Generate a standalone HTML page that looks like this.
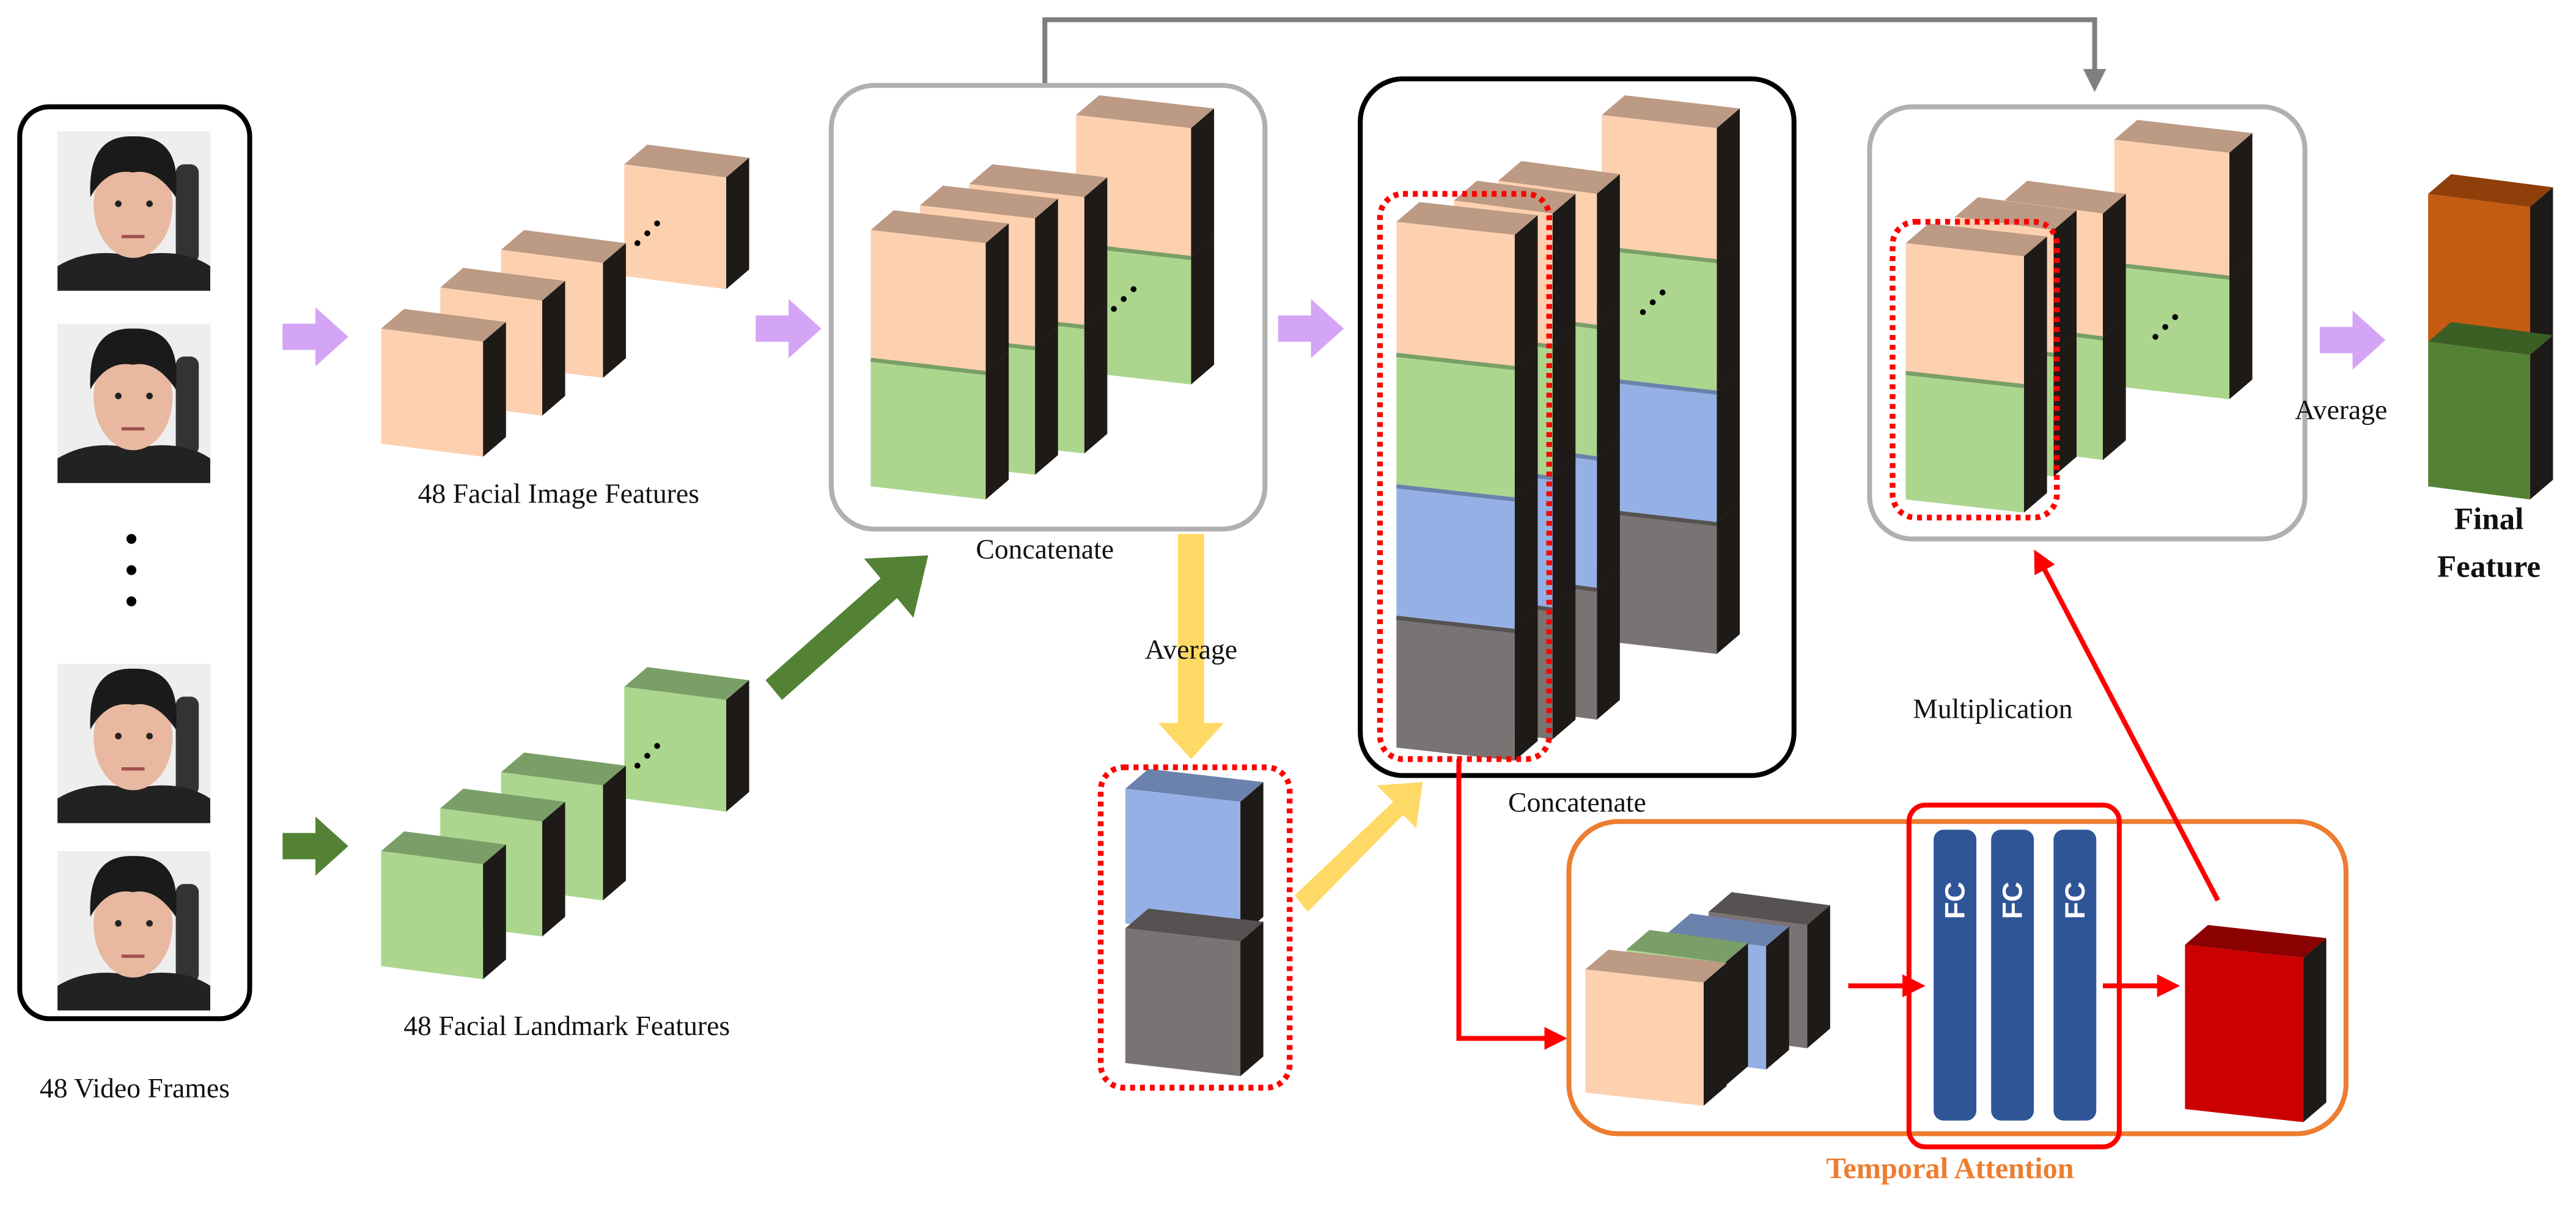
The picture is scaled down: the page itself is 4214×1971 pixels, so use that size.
<!DOCTYPE html>
<html><head><meta charset="utf-8">
<style>
html,body{margin:0;padding:0;background:#fff;}
svg{display:block;}
text{font-family:"Liberation Serif",serif;}
</style></head>
<body>
<svg id="s" width="4214" height="1971" viewBox="0 0 1568 733.4" preserveAspectRatio="none" xmlns="http://www.w3.org/2000/svg">
<defs>
<marker id="ar" markerWidth="14" markerHeight="14" refX="10" refY="7" orient="auto" markerUnits="userSpaceOnUse" viewBox="0 0 14 14"><path d="M0,0 L14,7 L0,14z" fill="#f00"/></marker>
</defs>
<rect x="12" y="65" width="140" height="555" rx="18" fill="none" stroke="#000" stroke-width="3"/>
<path d="M636,52 V12 H1275 V48" fill="none" stroke="#7f7f7f" stroke-width="3"/>
<path d="M1268,42 L1282,42 L1275,56z" fill="#7f7f7f"/>
<rect x="506" y="52" width="264" height="270" rx="26" fill="none" stroke="#b0b0b0" stroke-width="3"/>
<rect x="828" y="48" width="264" height="424" rx="26" fill="none" stroke="#000" stroke-width="3"/>
<rect x="1138" y="65" width="265" height="263" rx="26" fill="none" stroke="#b0b0b0" stroke-width="3"/>
<rect x="955" y="500" width="473" height="190" rx="30" fill="none" stroke="#ed7d31" stroke-width="3"/>
<g id="g"></g>
<g font-size="17" fill="#111" text-anchor="middle">
<text x="82" y="668">48 Video Frames</text>
<text x="340" y="306">48 Facial Image Features</text>
<text x="345" y="630">48 Facial Landmark Features</text>
<text x="636" y="340">Concatenate</text>
<text x="725" y="401">Average</text>
<text x="960" y="494">Concatenate</text>
<text x="1213" y="437">Multiplication</text>
<text x="1425" y="255">Average</text>
<text x="1515" y="322" font-weight="bold" font-size="19">Final</text>
<text x="1515" y="351" font-weight="bold" font-size="19">Feature</text>
<text x="1187" y="717" font-weight="bold" font-size="18" fill="#ed7d31">Temporal Attention</text>
</g>
</svg>
<script>
var G=document.getElementById('g'),h='';
var C={p:['#fdd0b0','#bc9a84'],g:['#acd68e','#7a9e68'],b:['#95b0e4','#6b82ad'],k:['#7a7373','#575252'],o:['#c55a11','#8e3f0a'],G:['#548235','#3b5e25'],r:['#cc0000','#8b0000']};
function cube(x,y,w,hh,c){var s=8,d=14,t=12,f=C[c];
h+='<polygon points="'+x+','+y+' '+(x+d)+','+(y-t)+' '+(x+w+d)+','+(y-t+s)+' '+(x+w)+','+(y+s)+'" fill="'+f[1]+'"/>';
h+='<polygon points="'+(x+w)+','+(y+s)+' '+(x+w+d)+','+(y-t+s)+' '+(x+w+d)+','+(y+hh-t+s)+' '+(x+w)+','+(y+hh+s)+'" fill="#1e1a17"/>';
h+='<polygon points="'+x+','+y+' '+(x+w)+','+(y+s)+' '+(x+w)+','+(y+hh+s)+' '+x+','+(y+hh)+'" fill="'+f[0]+'"/>';}
function stack(x,y,w,hh,cs){for(var i=cs.length-1;i>=0;i--)cube(x,y+i*hh,w,hh,cs[i]);
for(var i=1;i<cs.length;i++){var yy=y+i*hh;h+='<line x1="'+x+'" y1="'+(yy+1)+'" x2="'+(x+w)+'" y2="'+(yy+9)+'" stroke="'+C[cs[i]][1]+'" stroke-width="2.5"/>';}}
function dots(x,y){for(var i=0;i<3;i++)h+='<circle cx="'+(x+i*6)+'" cy="'+(y-i*6)+'" r="1.8" fill="#000"/>';}
function face(x,y){h+='<rect x="'+x+'" y="'+y+'" width="93" height="97" fill="#eeeeee"/>'+
'<rect x="'+(x+72)+'" y="'+(y+20)+'" width="14" height="60" rx="5" fill="#333"/>'+
'<path d="M'+x+','+(y+97)+' L'+x+','+(y+82)+' Q'+(x+20)+','+(y+70)+' '+(x+46)+','+(y+76)+' Q'+(x+75)+','+(y+70)+' '+(x+93)+','+(y+82)+' L'+(x+93)+','+(y+97)+'z" fill="#222"/>'+
'<ellipse cx="'+(x+46)+'" cy="'+(y+45)+'" rx="24" ry="32" fill="#e8b8a0"/>'+
'<path d="M'+(x+20)+','+(y+40)+' Q'+(x+18)+','+(y+2)+' '+(x+46)+','+(y+3)+' Q'+(x+76)+','+(y+2)+' '+(x+72)+','+(y+40)+' Q'+(x+60)+','+(y+22)+' '+(x+46)+','+(y+25)+' Q'+(x+30)+','+(y+22)+' '+(x+20)+','+(y+40)+'z" fill="#1a1a1a"/>'+
'<circle cx="'+(x+37)+'" cy="'+(y+44)+'" r="2" fill="#222"/><circle cx="'+(x+56)+'" cy="'+(y+44)+'" r="2" fill="#222"/>'+
'<path d="M'+(x+39)+','+(y+64)+' H'+(x+53)+'" stroke="#a05050" stroke-width="2"/>';}
function parrow(x,y,c){h+='<polygon points="'+x+','+(y-8)+' '+(x+20)+','+(y-8)+' '+(x+20)+','+(y-18)+' '+(x+40)+','+y+' '+(x+20)+','+(y+18)+' '+(x+20)+','+(y+8)+' '+x+','+(y+8)+'" fill="'+c+'"/>';}
[80,197,404,518].forEach(function(y){face(35,y);});
[328,347,366].forEach(function(y){h+='<circle cx="80" cy="'+y+'" r="3" fill="#000"/>';});
parrow(172,205,'#d4a5f5');parrow(460,200,'#d4a5f5');parrow(778,200,'#d4a5f5');parrow(1412,207,'#d4a5f5');parrow(172,515,'#548235');
cube(380,100,62,68,'p');dots(388,148);cube(305,152,62,70,'p');cube(268,175,62,70,'p');cube(232,200,62,70,'p');
cube(380,418,62,68,'g');dots(388,466);cube(305,470,62,70,'g');cube(268,492,62,70,'g');cube(232,518,62,70,'g');
h+='<polygon points="466,414 536,352 526,340 565,338 556,376 546,364 476,426" fill="#548235"/>';
stack(655,70,70,78,['p','g']);dots(678,188);stack(590,112,70,78,['p','g']);stack(560,125,70,78,['p','g']);stack(530,140,70,78,['p','g']);
h+='<polygon points="717,325 733,325 733,440 745,440 725,462 705,440 717,440" fill="#ffd966"/>';
h+='<polygon points="788,545 848,488 838,478 866,476 862,504 854,496 796,555" fill="#ffd966"/>';
cube(685,480,70,82,'b');cube(685,565,70,82,'k');
h+='<rect x="670" y="467" width="115" height="195" rx="14" fill="none" stroke="#f00" stroke-width="3.5" stroke-dasharray="3,3"/>';
stack(975,70,70,80,['p','g','b','k']);dots(1000,190);stack(912,110,60,80,['p','g','b','k']);stack(885,122,60,80,['p','g','b','k']);stack(850,135,72,80,['p','g','b','k']);
h+='<rect x="840" y="118" width="103" height="344" rx="14" fill="none" stroke="#f00" stroke-width="3.5" stroke-dasharray="3,3"/>';
stack(1287,85,70,75,['p','g']);dots(1312,205);stack(1220,122,60,75,['p','g']);stack(1190,132,60,75,['p','g']);stack(1160,148,72,78,['p','g']);
h+='<rect x="1152" y="135" width="100" height="180" rx="14" fill="none" stroke="#f00" stroke-width="3.5" stroke-dasharray="3,3"/>';
cube(1478,118,62,90,'o');cube(1478,208,62,88,'G');
cube(1040,555,60,75,'k');cube(1015,568,60,75,'b');cube(990,578,60,75,'g');cube(965,590,72,75,'p');
h+='<path d="M888,462 V632 H950" fill="none" stroke="#f00" stroke-width="3" marker-end="url(#ar)"/>';
h+='<path d="M1125,600 H1168" fill="none" stroke="#f00" stroke-width="3" marker-end="url(#ar)"/>';
h+='<path d="M1280,600 H1323" fill="none" stroke="#f00" stroke-width="3" marker-end="url(#ar)"/>';
h+='<path d="M1350,548 L1240,338" fill="none" stroke="#f00" stroke-width="3" marker-end="url(#ar)"/>';
[1177,1212,1250].forEach(function(x){h+='<rect x="'+x+'" y="505" width="26" height="177" rx="6" fill="#2f5597"/><text x="'+(x+13)+'" y="548" transform="rotate(-90 '+(x+13)+' 548)" text-anchor="middle" dominant-baseline="central" style="font-family:\'Liberation Sans\',sans-serif;font-weight:bold;font-size:17px" fill="#fff">FC</text>';});
h+='<rect x="1162" y="490" width="128" height="208" rx="10" fill="none" stroke="#f00" stroke-width="3"/>';
cube(1330,575,72,100,'r');
G.innerHTML=h;
</script>
</body></html>
